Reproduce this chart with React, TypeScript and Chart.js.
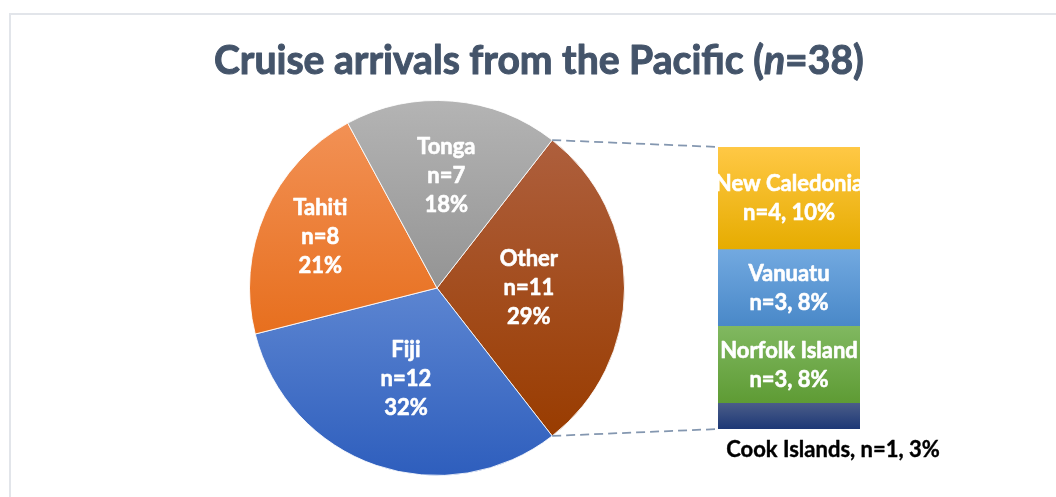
import React, { useEffect, useRef } from "react";
import { Chart, registerables } from "chart.js";
Chart.register(...registerables);

// ---- data ----
const pieLabels = ["Other", "Fiji", "Tahiti", "Tonga"];
const pieValues = [11, 12, 8, 7];
const piePercents = [29, 32, 21, 18];
const barLabels = ["Cook Islands", "Norfolk Island", "Vanuatu", "New Caledonia"];
const barValues = [1, 3, 3, 4];
const barPercents = [3, 8, 8, 10];
const titleMain = "Cruise arrivals from the Pacific (";
const titleItalic = "n";

// ---- styles ----
const pieTop = ["#ae5f3d", "#5c85d1", "#f29155", "#b4b4b4"];
const pieBottom = ["#993c00", "#2e5ebd", "#e76f1e", "#949494"];
const barTop = ["#4a5c88", "#80b860", "#72a9e0", "#ffc845"];
const barBottom = ["#1d3876", "#5e9b34", "#4988c8", "#e6ac00"];
const pieLabelRadius = [0.49, 0.51, 0.68, 0.6];
const FONT = "Lato, 'Open Sans', sans-serif";

const total = pieValues.reduce((a, b) => a + b, 0);
const otherTotal = barValues.reduce((a, b) => a + b, 0);

function heavyText(c: CanvasRenderingContext2D, t: string, x: number, y: number, color: string, w = 0.6) {
  c.fillStyle = color;
  c.strokeStyle = color;
  c.lineWidth = w;
  c.lineJoin = "round";
  c.fillText(t, x, y);
  c.strokeText(t, x, y);
}

export default function App() {
  const pieRef = useRef<HTMLCanvasElement>(null);
  const barRef = useRef<HTMLCanvasElement>(null);

  useEffect(() => {
    if (!pieRef.current || !barRef.current) return;
    const rotationDeg = 90 - (pieValues[0] / total) * 180;

    const pieGradient = (ctx: any) => {
      const chart = ctx.chart;
      const i = ctx.dataIndex;
      const area = chart.chartArea;
      if (!area || i === undefined) return pieTop[i ?? 0];
      const cx = (area.left + area.right) / 2;
      const cy = (area.top + area.bottom) / 2;
      const r = Math.min(area.right - area.left, area.bottom - area.top) / 2;
      let cum = 0;
      for (let k = 0; k < i; k++) cum += pieValues[k];
      const a0 = ((rotationDeg - 90) * Math.PI) / 180 + (cum / total) * Math.PI * 2;
      const a1 = a0 + (pieValues[i] / total) * Math.PI * 2;
      const ys = [cy, cy + r * Math.sin(a0), cy + r * Math.sin(a1)];
      for (let t = -4; t <= 4; t++) {
        const a = Math.PI / 2 + t * Math.PI;
        if (a > a0 && a < a1) ys.push(cy + r * Math.sin(a));
      }
      const y0 = Math.min(...ys);
      const y1 = Math.max(...ys);
      const g = chart.ctx.createLinearGradient(0, y0, 0, y1);
      g.addColorStop(0, pieTop[i]);
      g.addColorStop(1, pieBottom[i]);
      return g;
    };

    const titlePlugin = {
      id: "titlePlugin",
      afterDraw(chart: any) {
        const c = chart.ctx;
        const parts = [
          { t: titleMain, it: false },
          { t: titleItalic, it: true },
          { t: `=${total})`, it: false },
        ];
        const base = 40;
        const fontFor = (it: boolean, s: number) => `${it ? "italic " : ""}bold ${s}px ${FONT}`;
        let w = 0;
        parts.forEach((p) => {
          c.font = fontFor(p.it, base);
          w += c.measureText(p.t).width;
        });
        const size = (base * 650) / w;
        const width = (w * size) / base;
        let x = 539 - width / 2;
        c.save();
        c.textBaseline = "alphabetic";
        c.textAlign = "left";
        parts.forEach((p) => {
          c.font = fontFor(p.it, size);
          heavyText(c, p.t, x, 74, "#44546a", 1);
          x += c.measureText(p.t).width;
        });
        c.restore();
      },
    };

    const pieLabelPlugin = {
      id: "pieLabels",
      afterDatasetsDraw(chart: any) {
        const c = chart.ctx;
        const meta = chart.getDatasetMeta(0);
        c.save();
        c.font = `bold 22px ${FONT}`;
        c.textAlign = "center";
        c.textBaseline = "middle";
        meta.data.forEach((el: any, i: number) => {
          const p = el.getProps(["x", "y", "startAngle", "endAngle", "outerRadius"], true);
          const mid = (p.startAngle + p.endAngle) / 2;
          const rr = p.outerRadius * pieLabelRadius[i];
          const x = p.x + Math.cos(mid) * rr;
          const y = p.y + Math.sin(mid) * rr;
          const lines = [pieLabels[i], `n=${pieValues[i]}`, `${piePercents[i]}%`];
          lines.forEach((l, k) => heavyText(c, l, x, y + (k - 1) * 29, "#ffffff"));
        });
        c.restore();
      },
    };

    const pie = new Chart(pieRef.current, {
      type: "pie",
      data: {
        labels: pieLabels,
        datasets: [
          {
            data: pieValues,
            backgroundColor: pieGradient as any,
            borderColor: "rgba(255,255,255,0.85)",
            borderWidth: 1,
          },
        ],
      },
      options: {
        responsive: false,
        animation: false,
        rotation: rotationDeg,
        layout: { padding: { left: 249, right: 431, top: 100, bottom: 21 } },
        plugins: { legend: { display: false }, tooltip: { enabled: false }, title: { display: false } },
      },
      plugins: [titlePlugin, pieLabelPlugin],
    });

    const barGradient = (i: number) => (ctx: any) => {
      const chart = ctx.chart;
      const ys = chart.scales?.y;
      if (!chart.chartArea || !ys) return barTop[i];
      let cum = 0;
      for (let k = 0; k < i; k++) cum += barValues[k];
      const yb = ys.getPixelForValue(cum);
      const yt = ys.getPixelForValue(cum + barValues[i]);
      const g = chart.ctx.createLinearGradient(0, yt, 0, yb);
      g.addColorStop(0, barTop[i]);
      g.addColorStop(1, barBottom[i]);
      return g;
    };

    const barPlugin = {
      id: "barExtras",
      afterDatasetsDraw(chart: any) {
        const c = chart.ctx;
        const area = chart.chartArea;
        // connectors
        const pm = pie.getDatasetMeta(0).data[0] as any;
        if (pm) {
          const p = pm.getProps(["x", "y", "startAngle", "endAngle", "outerRadius"], true);
          c.save();
          c.strokeStyle = "#8497b0";
          c.lineWidth = 1.75;
          c.setLineDash([9, 5]);
          c.beginPath();
          c.moveTo(p.x + Math.cos(p.startAngle) * p.outerRadius, p.y + Math.sin(p.startAngle) * p.outerRadius);
          c.lineTo(area.left, area.top);
          c.moveTo(p.x + Math.cos(p.endAngle) * p.outerRadius, p.y + Math.sin(p.endAngle) * p.outerRadius);
          c.lineTo(area.left, area.bottom);
          c.stroke();
          c.restore();
        }
        // labels (clipped to bar width for inside labels)
        c.save();
        c.textAlign = "center";
        c.textBaseline = "middle";
        c.font = `bold 22px ${FONT}`;
        barValues.forEach((v, i) => {
          const el = chart.getDatasetMeta(i).data[0] as any;
          const p = el.getProps(["x", "y", "base"], true);
          const h = p.base - p.y;
          const cy = (p.y + p.base) / 2;
          if (h > 40) {
            heavyText(c, barLabels[i], p.x, cy - 14.5, "#ffffff");
            heavyText(c, `n=${v}, ${barPercents[i]}%`, p.x, cy + 14.5, "#ffffff");
          } else {
            heavyText(c, `${barLabels[i]}, n=${v}, ${barPercents[i]}%`, p.x + 44, p.base + 21, "#000000", 0.4);
          }
        });
        c.restore();
      },
    };

    const bar = new Chart(barRef.current, {
      type: "bar",
      data: {
        labels: [""],
        datasets: barValues.map((v, i) => ({
          label: barLabels[i],
          data: [v],
          backgroundColor: barGradient(i) as any,
          borderWidth: 0,
          barPercentage: 1,
          categoryPercentage: 1,
        })),
      },
      options: {
        responsive: false,
        animation: false,
        layout: { padding: { left: 718, right: 196, top: 147, bottom: 68 } },
        scales: {
          x: { display: false, stacked: true },
          y: { display: false, stacked: true, min: 0, max: otherTotal },
        },
        plugins: { legend: { display: false }, tooltip: { enabled: false } },
      },
      plugins: [barPlugin],
    });

    return () => {
      bar.destroy();
      pie.destroy();
    };
  }, []);

  return (
    <div style={{ position: "absolute", left: 0, top: 0, width: 1056, height: 497, background: "#ffffff", overflow: "hidden" }}>
      <div
        style={{
          position: "absolute",
          left: 9,
          top: 13,
          width: 1100,
          height: 600,
          borderLeft: "2px solid #e2e5ea",
          borderTop: "2px solid #e2e5ea",
        }}
      />
      <canvas ref={pieRef} width={1056} height={497} style={{ position: "absolute", left: 0, top: 0 }} />
      <canvas ref={barRef} width={1056} height={497} style={{ position: "absolute", left: 0, top: 0 }} />
    </div>
  );
}
